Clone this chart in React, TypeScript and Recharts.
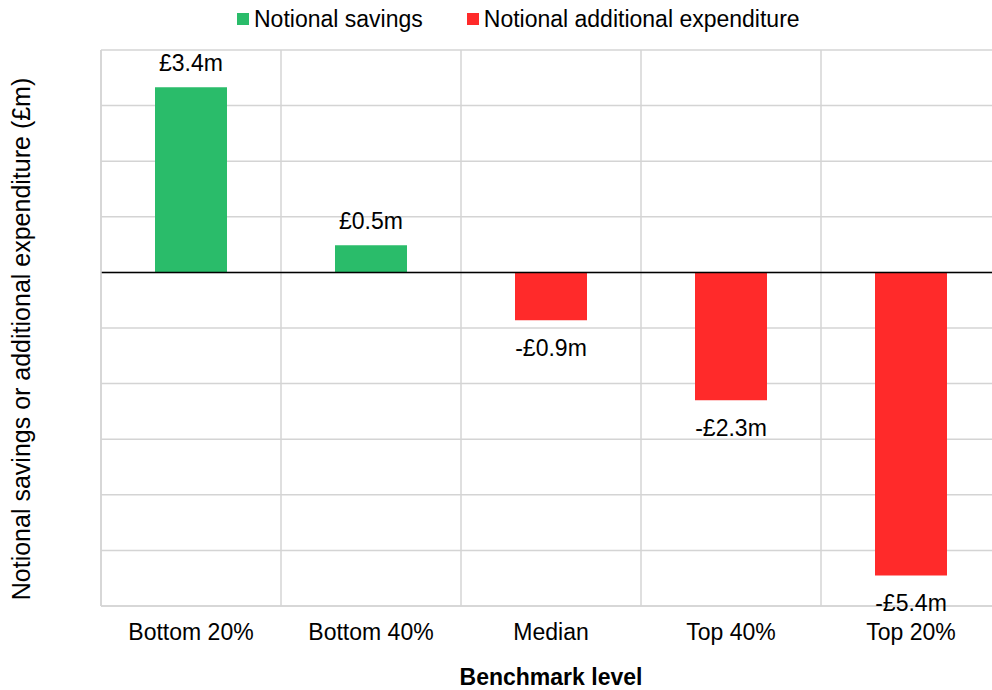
import React from 'react';
import {
  BarChart, Bar, XAxis, YAxis, CartesianGrid, Legend, ReferenceLine, LabelList,
} from 'recharts';

const categories = ['Bottom 20%', 'Bottom 40%', 'Median', 'Top 40%', 'Top 20%'];
const savings = [3.33, 0.49, null, null, null];
const expenditure = [null, null, -0.86, -2.3, -5.45];
const valueLabels = ['£3.4m', '£0.5m', '-£0.9m', '-£2.3m', '-£5.4m'];
const yTicks = [-6, -5, -4, -3, -2, -1, 0, 1, 2, 3, 4];

const GREEN = '#2abc6a';
const RED = '#ff2a2a';
const GRID = '#d4d4d4';
const FONT = '"Liberation Sans", Arial, sans-serif';

const data = categories.map((name, i) => ({
  name,
  savings: savings[i],
  expenditure: expenditure[i],
  label: valueLabels[i],
}));

const legendItems = [
  { name: 'Notional savings', color: GREEN },
  { name: 'Notional additional expenditure', color: RED },
];

function LegendBox() {
  return (
    <div style={{ height: 30, display: 'flex', alignItems: 'center', paddingLeft: 227, fontFamily: FONT, fontSize: 23, color: '#000' }}>
      {legendItems.map((it, i) => (
        <div key={it.name} style={{ display: 'flex', alignItems: 'center', marginRight: i === 0 ? 44 : 0 }}>
          <span style={{ width: 12, height: 12, background: it.color, marginRight: 5, display: 'inline-block' }} />
          <span>{it.name}</span>
        </div>
      ))}
    </div>
  );
}

const ValueLabel = (props: any) => {
  const { x, y, width, height, value } = props;
  if (value == null) return null;
  const row = data.find((d) => d.savings === value || d.expenditure === value);
  if (!row) return null;
  const top = Math.min(y, y + height);
  const bottom = Math.max(y, y + height);
  const ty = value >= 0 ? top - 24 : bottom + 28;
  return (
    <text x={x + width / 2} y={ty} textAnchor="middle" dominantBaseline="central"
      fontFamily={FONT} fontSize={23} fill="#000">
      {row.label}
    </text>
  );
};

export default function App() {
  return (
    <div style={{ position: 'absolute', left: 0, top: 0, width: 992, height: 690, overflow: 'hidden', background: '#fff' }}>
      <BarChart width={1010} height={690} data={data} stackOffset="sign"
        margin={{ top: 20, right: 9, bottom: 0, left: 10 }}>
        <Legend verticalAlign="top" align="left" wrapperStyle={{ top: 4 }} content={() => <LegendBox />} />
        <CartesianGrid stroke={GRID} strokeWidth={1.5}
          verticalCoordinatesGenerator={({ offset }: any) =>
            [0, 1, 2, 3, 4, 5].map((i) => offset.left + (offset.width * i) / 5)} />
        <XAxis dataKey="name" height={84} tickSize={0} tickMargin={18}
          axisLine={{ stroke: GRID, strokeWidth: 1.5 }}
          tick={{ fontFamily: FONT, fontSize: 23, fill: '#000' }}
          label={({ viewBox }: any) => (
            <text x={viewBox.x + viewBox.width / 2} y={viewBox.y + 71} textAnchor="middle"
              dominantBaseline="central" fontFamily={FONT} fontSize={23} fontWeight="bold" fill="#000">
              Benchmark level
            </text>
          )} />
        <YAxis width={91} domain={[-6, 4]} ticks={yTicks} tick={() => <g />} tickLine={false}
          axisLine={{ stroke: GRID, strokeWidth: 1.5 }}
          label={() => (
            <text x={21} y={339} transform="rotate(-90 21 339)" textAnchor="middle"
              dominantBaseline="central" fontFamily={FONT} fontSize={25} fill="#000">
              Notional savings or additional expenditure (£m)
            </text>
          )} />
        <ReferenceLine y={0} stroke="#000" strokeWidth={1.5} />
        <Bar dataKey="savings" name="Notional savings" stackId="a" fill={GREEN} barSize={72} isAnimationActive={false}>
          <LabelList dataKey="savings" content={ValueLabel} />
        </Bar>
        <Bar dataKey="expenditure" name="Notional additional expenditure" stackId="a" fill={RED} barSize={72} isAnimationActive={false}>
          <LabelList dataKey="expenditure" content={ValueLabel} />
        </Bar>
      </BarChart>
    </div>
  );
}
